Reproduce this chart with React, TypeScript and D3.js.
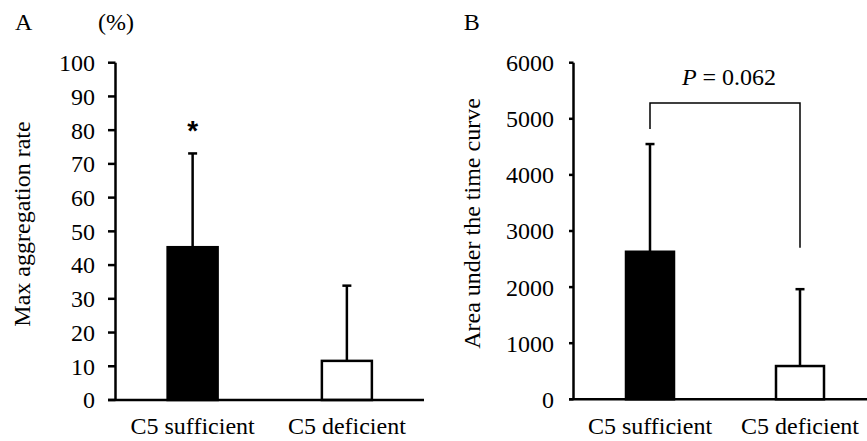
import React from "react";
import * as d3 from "d3";

const categories = ["C5 sufficient", "C5 deficient"];
const aggMeans = [45.3, 11.6];
const aggSD = [27.8, 22.3];
const aucMeans = [2630, 593];
const aucSD = [1920, 1370];
const ticksA = [0, 10, 20, 30, 40, 50, 60, 70, 80, 90, 100];
const ticksB = [0, 1000, 2000, 3000, 4000, 5000, 6000];
const barFills = ["#000000", "#ffffff"];
// significance bracket (panel B), in data units
const bracketTop = 5280;
const bracketLeftEnd = 4820;
const bracketRightEnd = 2700;
const pLabel = "0.062";

const FONT = "'Liberation Serif', 'Times New Roman', serif";
const FS = 24;

export default function App() {
  // Panel A
  const yA = d3.scaleLinear().domain([0, 100]).range([400, 62.7]);
  const xA = d3.scaleBand<string>().domain(categories).range([115.5, 424]).padding(0);
  // Panel B
  const yB = d3.scaleLinear().domain([0, 6000]).range([399.3, 62.7]);
  const xB = d3.scaleBand<string>().domain(categories).range([575, 875]).padding(0);

  const barW = 50;
  const capW = 9;
  const sw = 2.5;

  const cA = (c: string) => (xA(c) as number) + xA.bandwidth() / 2;
  const cB = (c: string) => (xB(c) as number) + xB.bandwidth() / 2;

  return (
    <svg
      width={867}
      height={441}
      style={{ position: "absolute", left: 0, top: 0, background: "#fff" }}
      fontFamily={FONT}
    >
      <rect x={0} y={0} width={867} height={441} fill="#fff" />
      {/* Panel A */}
      <text x={15} y={30} fontSize={FS}>A</text>
      <text x={98} y={30} fontSize={FS}>(%)</text>
      <text
        transform={`translate(30,224) rotate(-90)`}
        textAnchor="middle"
        fontSize={FS}
      >
        Max aggregation rate
      </text>
      {ticksA.map((t) => (
        <g key={"ta" + t}>
          <line x1={108} x2={115.5} y1={yA(t)} y2={yA(t)} stroke="#000" strokeWidth={sw} />
          <text x={95} y={yA(t)} dy="0.35em" textAnchor="end" fontSize={FS}>
            {t}
          </text>
        </g>
      ))}
      {categories.map((c, i) => (
        <g key={"ba" + c}>
          <line
            x1={cA(c)}
            x2={cA(c)}
            y1={yA(aggMeans[i])}
            y2={yA(aggMeans[i] + aggSD[i])}
            stroke="#000"
            strokeWidth={sw}
          />
          <line
            x1={cA(c) - capW / 2}
            x2={cA(c) + capW / 2}
            y1={yA(aggMeans[i] + aggSD[i])}
            y2={yA(aggMeans[i] + aggSD[i])}
            stroke="#000"
            strokeWidth={sw}
          />
          <rect
            x={cA(c) - barW / 2}
            y={yA(aggMeans[i])}
            width={barW}
            height={yA(0) - yA(aggMeans[i])}
            fill={barFills[i]}
            stroke="#000"
            strokeWidth={sw}
          />
          <text x={cA(c)} y={434} textAnchor="middle" fontSize={FS}>
            {c}
          </text>
        </g>
      ))}
      <line x1={115.5} x2={115.5} y1={yA(100)} y2={yA(0)} stroke="#000" strokeWidth={sw} />
      <line x1={108} x2={424} y1={yA(0)} y2={yA(0)} stroke="#000" strokeWidth={sw} />
      <text
        x={cA(categories[0])}
        y={yA(aggMeans[0] + aggSD[0]) - 13}
        textAnchor="middle"
        fontSize={28}
        fontWeight="bold"
        fontFamily="'Liberation Sans', Arial, sans-serif"
      >
        *
      </text>

      {/* Panel B */}
      <text x={463.7} y={30} fontSize={FS}>B</text>
      <text
        transform={`translate(480,223.5) rotate(-90)`}
        textAnchor="middle"
        fontSize={FS}
      >
        Area under the time curve
      </text>
      {ticksB.map((t) => (
        <g key={"tb" + t}>
          <line x1={569} x2={573.5} y1={yB(t)} y2={yB(t)} stroke="#000" strokeWidth={sw} />
          <text x={554} y={yB(t)} dy="0.35em" textAnchor="end" fontSize={FS}>
            {t}
          </text>
        </g>
      ))}
      {categories.map((c, i) => (
        <g key={"bb" + c}>
          <line
            x1={cB(c)}
            x2={cB(c)}
            y1={yB(aucMeans[i])}
            y2={yB(aucMeans[i] + aucSD[i])}
            stroke="#000"
            strokeWidth={sw}
          />
          <line
            x1={cB(c) - capW / 2}
            x2={cB(c) + capW / 2}
            y1={yB(aucMeans[i] + aucSD[i])}
            y2={yB(aucMeans[i] + aucSD[i])}
            stroke="#000"
            strokeWidth={sw}
          />
          <rect
            x={cB(c) - barW / 2 + 1}
            y={yB(aucMeans[i])}
            width={barW - 2}
            height={yB(0) - yB(aucMeans[i])}
            fill={barFills[i]}
            stroke="#000"
            strokeWidth={sw}
          />
          <text x={cB(c)} y={434} textAnchor="middle" fontSize={FS}>
            {c}
          </text>
        </g>
      ))}
      <line x1={573.5} x2={573.5} y1={yB(6000)} y2={yB(0)} stroke="#000" strokeWidth={sw} />
      <line x1={569} x2={867} y1={yB(0)} y2={yB(0)} stroke="#000" strokeWidth={sw} />
      <path
        d={`M${cB(categories[0])},${yB(bracketLeftEnd)} V${yB(bracketTop)} H${cB(categories[1])} V${yB(bracketRightEnd)}`}
        fill="none"
        stroke="#000"
        strokeWidth={1.5}
      />
      <text
        x={(cB(categories[0]) + cB(categories[1])) / 2 + 4}
        y={85}
        textAnchor="middle"
        fontSize={FS}
      >
        <tspan fontStyle="italic">P</tspan>
        <tspan> = {pLabel}</tspan>
      </text>
    </svg>
  );
}
